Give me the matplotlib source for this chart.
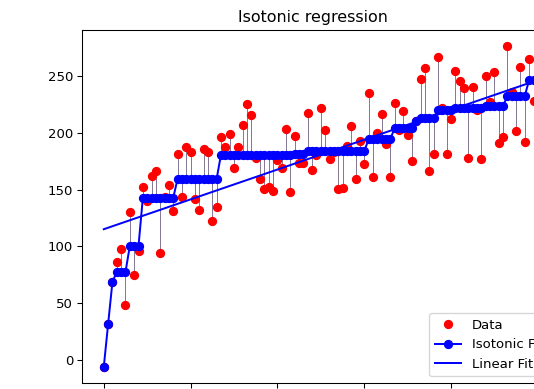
import numpy as np
import matplotlib
matplotlib.use("Agg")
import matplotlib.pyplot as plt
from matplotlib.collections import LineCollection

x = np.arange(100)
y = np.array([
    -6.0, 31.7, 68.9, 86.3, 97.5, 48.6, 130.3, 75.0, 95.9, 152.1,
    139.9, 162.3, 166.3, 94.0, 143.4, 153.6, 130.7, 181.5, 143.2, 187.8,
    183.2, 141.6, 131.8, 185.9, 182.9, 121.9, 134.8, 196.6, 187.4, 199.1,
    168.7, 187.3, 206.8, 225.3, 215.8, 178.2, 159.5, 150.9, 152.2, 148.4,
    175.7, 168.9, 203.1, 148.2, 197.3, 173.4, 173.5, 217.6, 167.6, 180.6,
    221.6, 202.6, 176.5, 183.5, 150.4, 151.3, 188.2, 206.0, 158.9, 192.7,
    172.5, 235.4, 161.2, 199.9, 216.7, 190.5, 161.2, 226.0, 202.7, 219.4,
    198.1, 174.8, 210.5, 247.2, 256.9, 166.5, 181.2, 266.8, 221.5, 181.1,
    211.7, 254.3, 245.9, 239.5, 178.1, 240.7, 220.3, 176.9, 250.4, 227.0,
    253.5, 191.1, 196.6, 276.2, 235.7, 201.2, 257.7, 192.3, 264.8, 228.3,
])


def isotonic_fit(values):
    """Pool adjacent violators: non-decreasing least squares fit"""
    blocks = []
    for v in values:
        blocks.append([v, 1])
        while len(blocks) > 1 and blocks[-2][0] > blocks[-1][0]:
            m2, c2 = blocks.pop()
            m1, c1 = blocks.pop()
            blocks.append([(m1 * c1 + m2 * c2) / (c1 + c2), c1 + c2])
    out = []
    for m, c in blocks:
        out += [m] * c
    return np.array(out)


y_iso = isotonic_fit(y)
slope, intercept = np.polyfit(x, y, 1)
y_lin = slope * x + intercept

dpi = 95.3
fig = plt.figure(figsize=(534 / dpi, 389 / dpi), dpi=dpi)
ax = fig.add_axes([82.3 / 534, 6.2 / 389, 472.7 / 534, 352.6 / 389])

data_line, = ax.plot(x, y, 'r.', markersize=12)
iso_line, = ax.plot(x, y_iso, 'b.-', markersize=12)
lin_line, = ax.plot(x, y_lin, 'b-')

# residual sticks between each point and the isotonic fit
segments = [[[i, y[i]], [i, y_iso[i]]] for i in range(len(x))]
lc = LineCollection(segments, zorder=0, colors='#7f7090', linewidths=0.7)
ax.add_collection(lc)

ax.set_xlim(-4.95, 103.95)
ax.set_ylim(-20.1, 290.3)
ax.set_xticks([0, 20, 40, 60, 80, 100])
ax.legend([data_line, iso_line, lin_line], ['Data', 'Isotonic Fit', 'Linear Fit'],
          loc='lower right')
ax.set_title('Isotonic regression', x=0.487)

fig.savefig('out.png', dpi=dpi)
